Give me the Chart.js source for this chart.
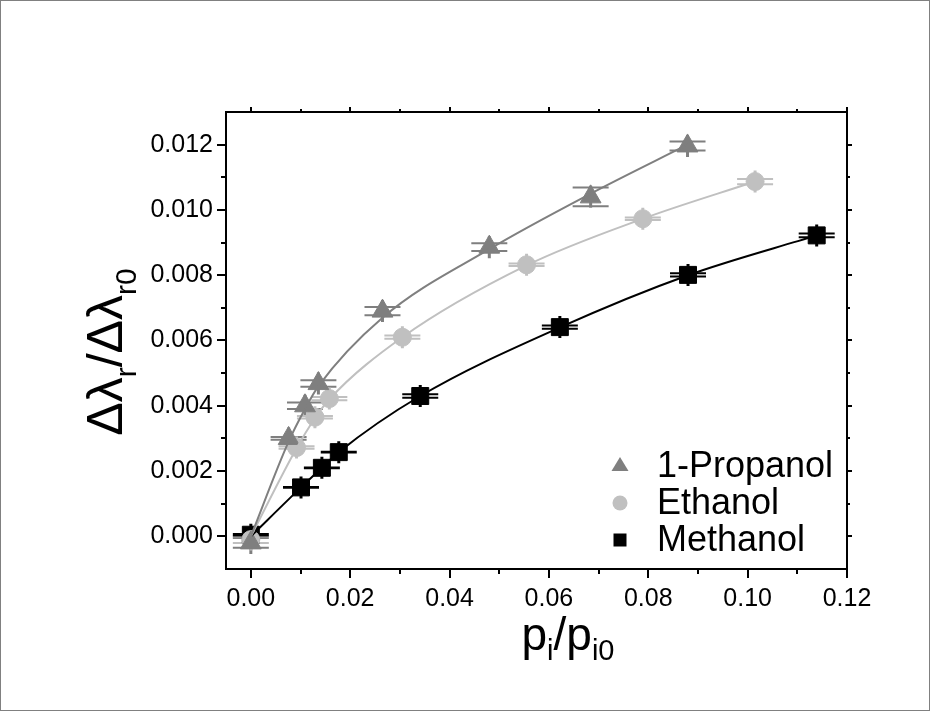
<!DOCTYPE html>
<html>
<head>
<meta charset="utf-8">
<script src="https://cdn.jsdelivr.net/npm/chart.js@4/dist/chart.umd.min.js"></script>
<style>
  html, body { margin: 0; padding: 0; background: #fff; }
  #wrap { width: 930px; height: 711px; }
</style>
</head>
<body>
<div id="wrap"><canvas id="chart" width="930" height="711"></canvas></div>
<script>
// series
const seriesNames = ["1-Propanol", "Ethanol", "Methanol"];

const propanolX = [0, 0.0076, 0.0109, 0.0136, 0.0265, 0.048, 0.0684, 0.0879];
const propanolY = [-0.0002, 0.0030, 0.0040, 0.00468, 0.0069, 0.00886, 0.0104, 0.01196];
const propanolErrY = [0.00015, 0.00004, 0.0001, 0.0001, 0.00013, 0.00012, 0.00029, 0.00014];
const propanolFitY = [0, 0.0029, 0.0039, 0.0046, 0.0067, 0.0088, 0.0105, 0.0120];

const ethanolX = [0, 0.0092, 0.0129, 0.0158, 0.0305, 0.0555, 0.0789, 0.1015];
const ethanolY = [-0.0001, 0.00272, 0.00365, 0.00422, 0.0061, 0.00832, 0.00973, 0.01087];
const ethanolErrY = [0.0001, 0.00004, 0.00004, 0.00005, 0.00005, 0.00004, 0.00004, 0.00008];
const ethanolFitY = [0, 0.0027, 0.00362, 0.0042, 0.0061, 0.0083, 0.00973, 0.01087];

const methanolX = [0, 0.0101, 0.0143, 0.0177, 0.0341, 0.0622, 0.0880, 0.1139];
const methanolY = [0.00005, 0.0015, 0.0021, 0.00258, 0.0043, 0.00641, 0.00801, 0.00922];
const methanolErrY = [0.00002, 0.00001, 0.00001, 0.00001, 0.00005, 0.00005, 0.00005, 0.00006];
const methanolFitY = [0, 0.0015, 0.0021, 0.00258, 0.0043, 0.0064, 0.0080, 0.00922];

const errX = [0.0001, 0.0001, 0.0001];

const xTicks = [0, 0.02, 0.04, 0.06, 0.08, 0.10, 0.12];
const xTickLabels = ["0.00", "0.02", "0.04", "0.06", "0.08", "0.10", "0.12"];
const xMinor = [0.01, 0.03, 0.05, 0.07, 0.09, 0.11];
const yTicks = [0, 0.002, 0.004, 0.006, 0.008, 0.010, 0.012];
const yTickLabels = ["0.000", "0.002", "0.004", "0.006", "0.008", "0.010", "0.012"];
const yMinor = [0.001, 0.003, 0.005, 0.007, 0.009, 0.011];

const FONT = "'Liberation Sans', Arial, sans-serif";
const colors = ["#7f7f7f", "#c0c0c0", "#000000"];
const styles = ["triangle", "circle", "rect"];
const radii = [12, 9, 12];

const pts = (xs, ys) => xs.map((x, i) => ({ x, y: ys[i] }));
const allX = [propanolX, ethanolX, methanolX];
const allY = [propanolY, ethanolY, methanolY];
const allErr = [propanolErrY, ethanolErrY, methanolErrY];
const allFit = [propanolFitY, ethanolFitY, methanolFitY];

const datasets = [];
for (let i = 0; i < 3; i++) {
    datasets.push({
        label: seriesNames[i] + " fit",
        data: pts(allX[i], allFit[i]),
        showLine: true,
        borderColor: colors[i],
        borderWidth: 2,
        pointRadius: 0,
        cubicInterpolationMode: "monotone",
        order: 0
    });
    datasets.push({
        label: seriesNames[i],
        data: pts(allX[i], allY[i]),
        showLine: false,
        pointStyle: styles[i],
        pointRadius: radii[i],
        backgroundColor: colors[i],
        borderColor: colors[i],
        borderWidth: 1,
        order: 1
    });
}

function drawRich(ctx, segs, x, y) {
    // segs drawn left to right, centered on x, baseline at y
    let total = 0;
    segs.forEach(s => { ctx.font = `${s.size}px ${FONT}`; s.w = ctx.measureText(s.t).width; total += s.w; });
    let cx = x - total / 2;
    segs.forEach(s => {
        ctx.font = `${s.size}px ${FONT}`;
        ctx.fillText(s.t, cx, y + (s.sub ? s.off : 0));
        cx += s.w;
    });
}

const frame = {
    id: "frame",
    beforeDatasetsDraw(chart) {
        const { ctx, scales: { x, y } } = chart;
        ctx.save();
        ctx.lineWidth = 2;
        for (let i = 0; i < 3; i++) {
            ctx.strokeStyle = colors[i];
            allX[i].forEach((xv, k) => {
                const yv = allY[i][k], ey = allErr[i][k], ex = errX[i];
                const px = x.getPixelForValue(xv), py = y.getPixelForValue(yv);
                const t = y.getPixelForValue(yv + ey), b = y.getPixelForValue(yv - ey);
                const l = x.getPixelForValue(xv - ex), r = x.getPixelForValue(xv + ex);
                ctx.beginPath();
                ctx.moveTo(px, t); ctx.lineTo(px, b);
                ctx.moveTo(px - 18, t); ctx.lineTo(px + 18, t);
                ctx.moveTo(px - 18, b); ctx.lineTo(px + 18, b);
                ctx.moveTo(l, py); ctx.lineTo(r, py);
                ctx.moveTo(l, py - 11); ctx.lineTo(l, py + 11);
                ctx.moveTo(r, py - 11); ctx.lineTo(r, py + 11);
                ctx.stroke();
            });
        }
        ctx.restore();
    },
    afterDraw(chart) {
        const { ctx, chartArea: a, scales: { x, y } } = chart;
        ctx.save();
        // outer picture border
        ctx.strokeStyle = "#808080";
        ctx.lineWidth = 1;
        ctx.strokeRect(0.5, 0.5, 929, 710);

        // plot box and ticks
        ctx.strokeStyle = "#000";
        ctx.lineWidth = 2;
        ctx.strokeRect(a.left, a.top, a.right - a.left, a.bottom - a.top);
        ctx.beginPath();
        const xt = (v, lo, hi) => { const p = Math.round(x.getPixelForValue(v)); ctx.moveTo(p, a.bottom); ctx.lineTo(p, a.bottom + lo); ctx.moveTo(p, a.top); ctx.lineTo(p, a.top - hi); };
        const yt = (v, lo, hi) => { const p = Math.round(y.getPixelForValue(v)); ctx.moveTo(a.left, p); ctx.lineTo(a.left - lo, p); ctx.moveTo(a.right, p); ctx.lineTo(a.right + hi, p); };
        xTicks.forEach(v => xt(v, 9, 5));
        xMinor.forEach(v => xt(v, 5, 3));
        yTicks.forEach(v => yt(v, 9, 5));
        yMinor.forEach(v => yt(v, 5, 3));
        ctx.stroke();

        // axis titles
        ctx.fillStyle = "#000";
        ctx.textBaseline = "alphabetic";
        ctx.textAlign = "left";
        drawRich(ctx, [
            { t: "p", size: 46 }, { t: "i", size: 29, sub: true, off: 10 },
            { t: "/", size: 46 }, { t: "p", size: 46 }, { t: "i0", size: 29, sub: true, off: 10 }
        ], 568, 650);

        ctx.save();
        ctx.translate(122, 352);
        ctx.rotate(-Math.PI / 2);
        drawRich(ctx, [
            { t: "Δλ", size: 50 }, { t: "r", size: 30, sub: true, off: 14 },
            { t: "/", size: 50 }, { t: "Δλ", size: 50 }, { t: "r0", size: 30, sub: true, off: 14 }
        ], 0, 0);
        ctx.restore();

        // legend
        const rows = [466, 503, 540];
        const mx = 620;
        seriesNames.forEach((name, i) => {
            const cy = rows[i];
            ctx.fillStyle = colors[i];
            ctx.beginPath();
            if (styles[i] == "triangle") {
                ctx.moveTo(mx, cy - 9); ctx.lineTo(mx + 8.5, cy + 5); ctx.lineTo(mx - 8.5, cy + 5); ctx.closePath();
            } else if (styles[i] == "circle") {
                ctx.arc(mx, cy, 7.5, 0, Math.PI * 2);
            } else {
                ctx.rect(mx - 6.5, cy - 6.5, 13, 13);
            }
            ctx.fill();
            ctx.fillStyle = "#000";
            ctx.font = `36px ${FONT}`;
            ctx.textBaseline = "middle";
            ctx.fillText(name, 657, cy + 1);
        });
        ctx.restore();
    }
};

new Chart(document.getElementById("chart"), {
    type: "scatter",
    data: { datasets },
    plugins: [frame],
    options: {
        responsive: false,
        animation: false,
        devicePixelRatio: 1,
        layout: { padding: { left: 0, right: 83, top: 112, bottom: 0 } },
        plugins: { legend: { display: false }, tooltip: { enabled: false } },
        scales: {
            x: {
                type: "linear",
                min: -0.005,
                max: 0.12,
                afterBuildTicks: s => { s.ticks = xTicks.map(v => ({ value: v })); },
                afterFit: s => { s.height = 142; },
                ticks: {
                    autoSkip: false,
                    maxRotation: 0,
                    padding: 6,
                    color: "#000",
                    font: { size: 25, family: FONT },
                    callback: (v, i) => xTickLabels[i]
                },
                grid: { color: "rgba(0,0,0,0)", drawOnChartArea: false, tickLength: 9 },
                border: { display: false }
            },
            y: {
                type: "linear",
                min: -0.001,
                max: 0.013,
                afterBuildTicks: s => { s.ticks = yTicks.map(v => ({ value: v })); },
                afterFit: s => { s.width = 226; },
                ticks: {
                    autoSkip: false,
                    padding: 4,
                    color: "#000",
                    font: { size: 25, family: FONT },
                    callback: (v, i) => yTickLabels[i]
                },
                grid: { color: "rgba(0,0,0,0)", drawOnChartArea: false, tickLength: 9 },
                border: { display: false }
            }
        }
    }
});
</script>
</body>
</html>
